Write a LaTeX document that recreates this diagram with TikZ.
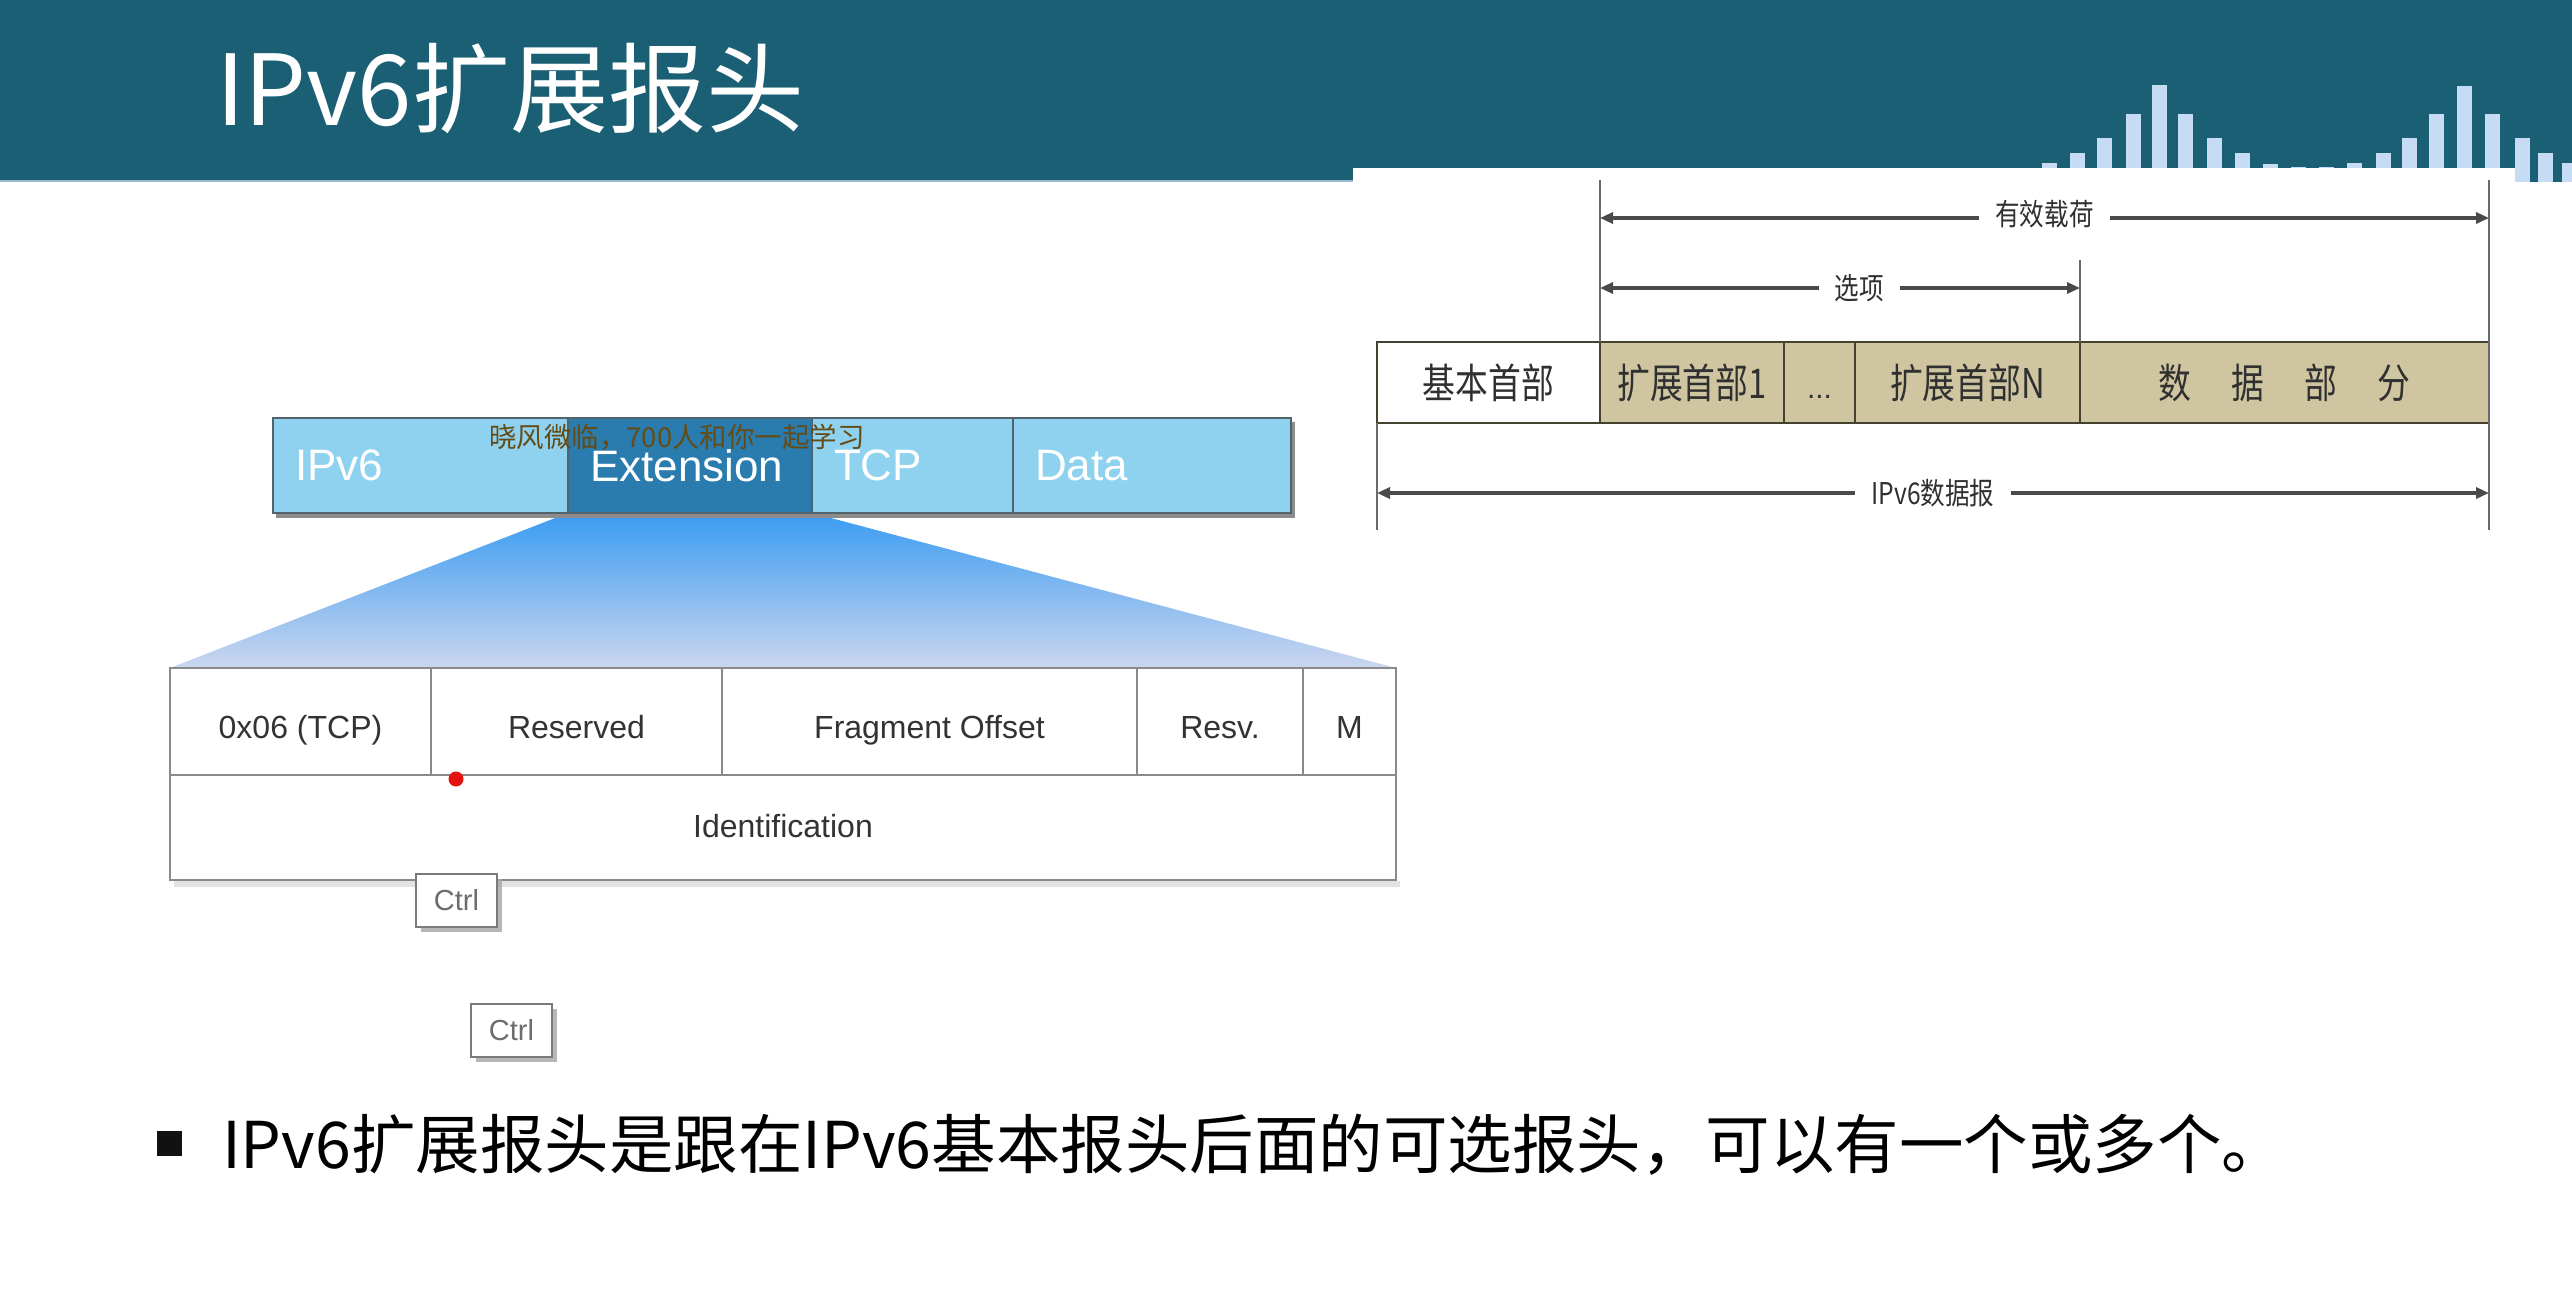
\documentclass[tikz,border=0pt]{standalone}
\usepackage{fontspec}
\setmainfont{Liberation Sans}
\newfontfamily\cjk{Noto Sans CJK SC}
\usepackage{graphicx}
\usetikzlibrary{arrows.meta,shadows}

\pgfdeclarelayer{bg}
\pgfsetlayers{bg,main}

\definecolor{band}{HTML}{1A5F73}
\definecolor{bandedge}{HTML}{9CB6CE}
\definecolor{barlight}{HTML}{C6DBF4}
\definecolor{pktlight}{HTML}{8FD2F0}
\definecolor{pktdark}{HTML}{2A7BAE}
\definecolor{pktedge}{HTML}{53636C}
\definecolor{pktshadow}{HTML}{8C8C8C}
\definecolor{fantop}{HTML}{3A9CF2}
\definecolor{fanbottom}{HTML}{CBD6EF}
\definecolor{tabedge}{HTML}{8A8A8A}
\definecolor{tabtext}{HTML}{333333}
\definecolor{khaki}{HTML}{CFC6A1}
\definecolor{olive}{HTML}{45432F}
\definecolor{dimline}{HTML}{4A4A4A}
\definecolor{extline}{HTML}{6A6A6A}
\definecolor{figtext}{HTML}{303030}
\definecolor{ctrledge}{HTML}{7A7A7A}
\definecolor{ctrltext}{HTML}{6D6D6D}
\definecolor{reddot}{HTML}{E5120F}
\definecolor{wm}{HTML}{654C17}
\definecolor{bulletc}{HTML}{111111}

\newcommand{\fs}[1]{\fontsize{#1}{#1}\selectfont}
\newcommand{\narrowtxt}[2][0.8]{\scalebox{#1}[1]{#2}}

\begin{document}
\begin{tikzpicture}[x=1pt,y=-1pt,
  every node/.style={inner sep=0pt,outer sep=0pt},
  pktcell/.style={draw=pktedge,line width=2.5pt,anchor=north west,
    minimum height=95pt,text=white,font=\fs{44},align=left,inner xsep=22pt},
  tcell/.style={draw=tabedge,line width=2.5pt,fill=white,anchor=north west,
    font=\fs{32},text=tabtext},
  toprow/.style={tcell,minimum height=107pt,text height=33pt,text depth=0pt},
  rcell/.style={draw=olive,line width=2.5pt,anchor=north west,
    minimum height=81pt,font=\cjk\fs{41},text=figtext},
  ctrlbox/.style={draw=ctrledge,line width=2pt,fill=white,anchor=north west,
    minimum width=81pt,minimum height=53pt,font=\fs{29},text=ctrltext,
    drop shadow={shadow xshift=5pt,shadow yshift=-5pt,fill=gray!70,opacity=0.8}},
  dimarrow/.style={draw=dimline,line width=3.5pt,
    {Triangle[length=13pt,width=11pt]}-{Triangle[length=13pt,width=11pt]}},
  extension line/.style={draw=extline,line width=2pt},
  dimlabel/.style={fill=white,inner xsep=16pt,inner ysep=3pt,
    font=\cjk\fs{30},text=figtext}]

\useasboundingbox (0,0) rectangle (2572,1296);
\begin{pgfonlayer}{bg}
  \fill[white] (0,0) rectangle (2572,1296);
\end{pgfonlayer}

% ---- header band with bar-graph ornament ----
\fill[band] (0,0) rectangle (2572,182);
\draw[bandedge,line width=2.5pt] (0,181) -- (1353,181);
\foreach \cx/\tp in {2049/163,2077/153,2104/138,2133/114,2159/85,2185/114,
  2214/138,2242/153,2270/164,2298/167,2326/167,2354/163,2383/153,2409/138,
  2436/114,2464/86,2492/114,2522/138,2545/153,2569/163}
  \fill[barlight] (\cx-7.5,\tp) rectangle (\cx+7.5,182);
% white panel of the datagram figure
\fill[white] (1353,168) rectangle (2515,190);

\node[anchor=base west,text=white,font=\cjk\fs{98}] (title) at (216,125) {IPv6扩展报头};

% ---- packet: IPv6 | Extension | TCP | Data ----
\fill[pktshadow] (276,422) rectangle (1295,518);
\node[pktcell,fill=pktlight,text width=251pt] (ipv6) at (273,418) {IPv6};
\node[pktcell,fill=pktdark,text width=200pt] (ext) at (ipv6.north east) {Extension};
\node[pktcell,fill=pktlight,text width=157pt] (tcp) at (ext.north east) {TCP};
\node[pktcell,fill=pktlight,text width=234pt] (data) at (tcp.north east) {Data};

% ---- fragment header table ----
\fill[gray!22] (174,881) rectangle (1400,887);
\node[toprow,minimum width=261pt] (nh) at (170,668) {0x06 (TCP)};
\node[toprow,minimum width=291pt] (res) at (nh.north east) {Reserved};
\node[toprow,minimum width=415pt] (fo) at (res.north east) {Fragment Offset};
\node[toprow,minimum width=166pt] (resv) at (fo.north east) {Resv.};
\node[toprow,minimum width=93pt] (mflag) at (resv.north east) {M};
\node[tcell,minimum width=1226pt,minimum height=105pt,text height=22pt,text depth=3pt]
  (ident) at (nh.south west) {Identification};

% zoom fan from the Extension block to the table
\begin{pgfonlayer}{bg}
  \shade[top color=fantop,bottom color=fanbottom]
    (ext.south west) -- (ext.south east) -- (mflag.north east) -- (nh.north west) -- cycle;
\end{pgfonlayer}

\node[circle,fill=reddot,minimum size=15pt] (dot) at (456,779) {};

\node[ctrlbox] (ctrlA) at (416,874) {Ctrl};
\node[ctrlbox] (ctrlB) at (471,1004) {Ctrl};

% ---- IPv6 datagram layout ----
\node[rcell,fill=white,minimum width=223pt] (basehdr) at (1377,342) {\narrowtxt{基本首部}};
\node[rcell,fill=khaki,minimum width=184pt] (ext1) at (basehdr.north east) {\narrowtxt{扩展首部1}};
\node[rcell,fill=khaki,minimum width=71pt,text height=36pt,text depth=5pt]
  (dots) at (ext1.north east) {\rmfamily\fs{30}...};
\node[rcell,fill=khaki,minimum width=225pt] (extn) at (dots.north east) {\narrowtxt{扩展首部N}};
\node[rcell,fill=khaki,minimum width=409pt] (payload) at (extn.north east)
  {\narrowtxt{数\hspace{50pt}据\hspace{50pt}部\hspace{50pt}分}};

\coordinate (payTop) at (1600,180);
\coordinate (optTop) at (2080,260);
\coordinate (endTop) at (2489,180);
\coordinate (endBot) at (2489,530);
\coordinate (startBot) at (1377,530);
\draw[extension line] (payTop) -- (ext1.north west);
\draw[extension line] (optTop) -- (payload.north west);
\draw[extension line] (endTop) -- (endBot);
\draw[extension line] (basehdr.south west) -- (startBot);

\coordinate (payL) at (1600,218);
\coordinate (payR) at (2489,218);
\coordinate (optL) at (1600,288);
\coordinate (optR) at (2080,288);
\coordinate (dgL) at (1377,493);
\coordinate (dgR) at (2489,493);
\draw[dimarrow] (payL) -- node[dimlabel,yshift=4pt] (lblpay) {\narrowtxt[0.82]{有效载荷}} (payR);
\draw[dimarrow] (optL) -- node[dimlabel,pos=0.54] (lblopt) {\narrowtxt[0.82]{选项}} (optR);
\draw[dimarrow] (dgL) -- node[dimlabel] (lbldg) {\narrowtxt[0.82]{IPv6数据报}} (dgR);

% ---- caption line ----
\node[fill=bulletc,minimum size=25pt,anchor=north west] (bullet) at (157,1131) {};
\node[anchor=base west,font=\cjk\fs{64.5},text=black] (note) at (222,1168)
  {IPv6扩展报头是跟在IPv6基本报头后面的可选报头，可以有一个或多个。};

% overlay caption
\node[anchor=base west,font=\cjk\fs{27.5},text=wm] (wmark) at (489,447) {晓风微临，700人和你一起学习};
\end{tikzpicture}
\end{document}
